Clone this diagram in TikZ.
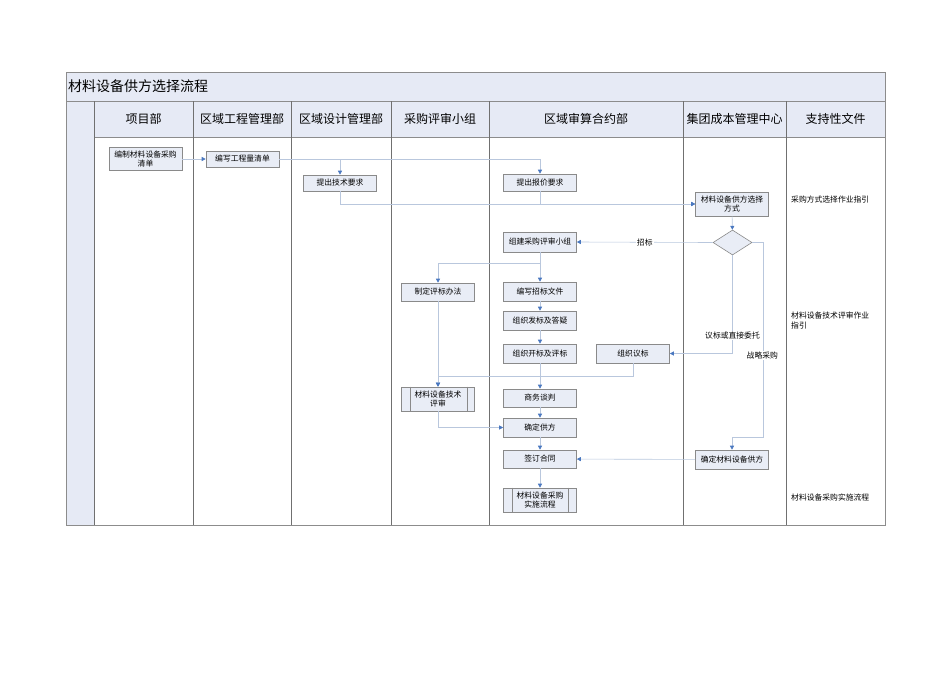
\documentclass[tikz,border=0pt]{standalone}
\usepackage{fontspec}
\setmainfont{Noto Sans CJK SC}
\usetikzlibrary{arrows.meta,shadows,shapes.geometric}
\definecolor{bandfill}{HTML}{E6EAF5}
\definecolor{boxfill}{HTML}{E9EDF6}
\definecolor{boxline}{HTML}{8A8A8A}
\definecolor{laneline}{HTML}{707070}
\definecolor{frameline}{HTML}{8C8C8C}
\definecolor{flowline}{HTML}{B9C7DD}
\definecolor{tipblue}{HTML}{4A78C0}
\tikzset{
    box/.style={draw=boxline, fill=boxfill, line width=0.6pt, minimum width=73pt,
        minimum height=18pt, inner sep=1pt, align=center, font=\fontsize{7.8}{9}\selectfont,
        drop shadow={shadow xshift=0.8pt, shadow yshift=-0.8pt, fill=black!18}},
    twoline/.style={box, minimum height=24pt},
    decide/.style={draw=boxline, fill=boxfill, line width=0.6pt, diamond,
        minimum width=39pt, minimum height=25pt, inner sep=0pt},
    head/.style={font=\fontsize{12}{14}\selectfont},
    note/.style={font=\fontsize{7.8}{10}\selectfont, align=left, anchor=west, inner sep=0pt},
    tag/.style={font=\fontsize{7.8}{9}\selectfont, fill=white, inner sep=1pt},
    flow/.style={draw=flowline, line width=0.6pt,
        -{Triangle[length=4pt, width=4pt, color=tipblue, fill=tipblue]}},
}
\begin{document}
\begin{tikzpicture}[x=1pt, y=-1pt]
    \useasboundingbox (0,0) rectangle (950,672);
    \fill[bandfill] (66,72) rectangle (885,137);
    \fill[bandfill] (66,101) rectangle (94,525);
    \draw[frameline, line width=0.7pt] (66,72) rectangle (885,525);
    \draw[frameline, line width=0.7pt] (66,101) -- (885,101);
    \draw[frameline, line width=0.7pt] (94,137) -- (885,137);
    \draw[laneline, line width=0.7pt] (94,101) -- (94,525);
    \draw[laneline, line width=0.7pt] (193,101) -- (193,525);
    \draw[laneline, line width=0.7pt] (291,101) -- (291,525);
    \draw[laneline, line width=0.7pt] (391,101) -- (391,525);
    \draw[laneline, line width=0.7pt] (489,101) -- (489,525);
    \draw[laneline, line width=0.7pt] (683,101) -- (683,525);
    \draw[laneline, line width=0.7pt] (786,101) -- (786,525);

    \node[anchor=west, font=\fontsize{14}{16}\selectfont, inner sep=0pt] (title) at (68,86) {材料设备供方选择流程};
    \node[head] (hproj) at (143.5,119) {项目部};
    \node[head] (heng) at (242,119) {区域工程管理部};
    \node[head] (hdes) at (341,119) {区域设计管理部};
    \node[head] (hgrp) at (440,119) {采购评审小组};
    \node[head] (hcost) at (586,119) {区域审算合约部};
    \node[head] (hhq) at (734.5,119) {集团成本管理中心};
    \node[head] (hdoc) at (835.5,119) {支持性文件};

    \node[twoline, minimum height=23pt] (list) at (145.5,159) {编制材料设备采购\\清单};
    \node[box, minimum height=16pt] (qty) at (242.5,159) {编写工程量清单};
    \node[box, minimum height=16pt] (tech) at (340,183) {提出技术要求};
    \node[box, minimum height=17pt] (quote) at (540,182.5) {提出报价要求};
    \node[twoline] (mode) at (732,204) {材料设备供方选择\\方式};
    \node[decide] (choose) at (732.5,242.5) {};
    \node[box, minimum height=20pt] (team) at (540,242) {组建采购评审小组};
    \node[box] (rule) at (438,292) {制定评标办法};
    \node[box, minimum height=19pt] (bid) at (540,291.5) {编写招标文件};
    \node[box, minimum height=19pt] (answer) at (540,320.5) {组织发标及答疑};
    \node[box, minimum height=19pt] (open) at (540,353.5) {组织开标及评标};
    \node[box, minimum height=19pt] (talk) at (633,353.5) {组织议标};
    \node[twoline] (review) at (438,399) {材料设备技术\\评审};
    \node[box] (biz) at (540,398) {商务谈判};
    \node[box, minimum height=19pt] (supplier) at (540,427.5) {确定供方};
    \node[box] (sign) at (540,459) {签订合同};
    \node[box, minimum height=19pt] (final) at (732,459.5) {确定材料设备供方};
    \node[twoline] (impl) at (540,500) {材料设备采购\\实施流程};
    \draw[boxline, line width=0.6pt] ([xshift=9pt]review.north west) -- ([xshift=9pt]review.south west);
    \draw[boxline, line width=0.6pt] ([xshift=-8pt]review.north east) -- ([xshift=-8pt]review.south east);
    \draw[boxline, line width=0.6pt] ([xshift=9pt]impl.north west) -- ([xshift=9pt]impl.south west);
    \draw[boxline, line width=0.6pt] ([xshift=-9pt]impl.north east) -- ([xshift=-9pt]impl.south east);

    \node[note] (doc1) at (791,200) {采购方式选择作业指引};
    \node[note] (doc2) at (791,321) {材料设备技术评审作业\\指引};
    \node[note] (doc3) at (791,498) {材料设备采购实施流程};

    \draw[flow] (list.east) -- (qty.west);
    \draw[flow] (qty.east) -| (tech.north);
    \draw[flow] (qty.east) -| (quote.north);
    \draw[flow] (tech.south) |- (mode.west);
    \draw[flow] (quote.south) |- (mode.west);
    \draw[flow] (mode) -- (choose);
    \draw[flow] (choose.west) -- node[tag] {招标} (team.east);
    \draw[flow] (choose.south) |- node[tag, pos=0.41] {议标或直接委托} (talk.east);
    \draw[flow] (choose.east) -- ++(11,0) |- node[tag, pos=0.29, xshift=-1pt] {战略采购} ([yshift=12pt]final.north) -- (final.north);
    \draw[flow] (team.south) -- ++(0,11) -| (rule.north);
    \draw[flow] (team) -- (bid);
    \draw[flow] (bid) -- (answer);
    \draw[flow] (answer) -- (open);
    \draw[flow] (rule) -- (review);
    \draw[flow] (open) -- (biz);
    \draw[flow] (talk.south) |- ([yshift=10pt]review.north) -- (review.north);
    \draw[flow] (review.south) |- (supplier.west);
    \draw[flow] (biz) -- (supplier);
    \draw[flow] (supplier) -- (sign);
    \draw[flow] (final) -- (sign);
    \draw[flow] (sign) -- (impl);
\end{tikzpicture}
\end{document}
